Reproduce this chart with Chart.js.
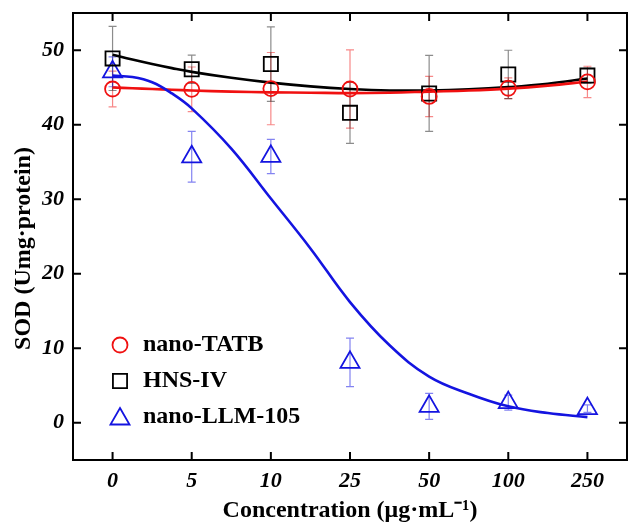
<!DOCTYPE html>
<html><head><meta charset="utf-8">
<script src="https://cdn.jsdelivr.net/npm/chart.js@4/dist/chart.umd.min.js"></script>
<style>html,body{margin:0;padding:0;background:#fff;}</style>
</head><body>
<canvas id="c" width="631" height="522"></canvas>
<script>
// ---- data ----
const categories = ['0', '5', '10', '25', '50', '100', '250'];
const yTicks = [0, 10, 20, 30, 40, 50];

const tatbMean = [44.8, 44.75, 44.85, 44.8, 43.8, 44.9, 45.75];
const tatbErr  = [2.4, 3.0, 4.85, 5.25, 2.7, 1.4, 2.1];
const hnsMean  = [48.9, 47.45, 48.15, 41.6, 44.2, 46.75, 46.6];
const hnsErr   = [4.3, 1.9, 5.0, 4.1, 5.1, 3.25, 1.0];
const llmMean  = [47.1, 35.7, 35.75, 8.1, 2.2, 2.7, 1.9];
const llmErr   = [2.0, 3.4, 2.3, 3.25, 1.75, 1.0, 0.5];

// fitted curves, read at positions along the category axis
const fitX    = [0, 0.25, 0.5, 0.75, 1, 1.5, 2, 2.5, 3, 3.5, 4, 4.5, 5, 5.5, 6];
const fitTATB = [45.0, 44.9, 44.8, 44.7, 44.6, 44.45, 44.35, 44.3, 44.25, 44.3, 44.45, 44.6, 44.85, 45.25, 45.8];
const fitHNS  = [49.4, 48.75, 48.15, 47.6, 47.1, 46.3, 45.65, 45.15, 44.8, 44.6, 44.6, 44.75, 45.05, 45.5, 46.2];
const fitLLM  = [46.6, 46.4, 45.7, 44.2, 42.2, 36.8, 30.1, 23.4, 16.2, 10.4, 6.2, 3.9, 2.2, 1.3, 0.75];

const legendLabels = ['nano-TATB', 'HNS-IV', 'nano-LLM-105'];
const yTitle = 'SOD (Umg·protein)';
const xTitle = 'Concentration (μg·mL⁻¹)';

const RED = '#f01010', BLACK = '#000000', BLUE = '#1414e0';
const SERIF = "'Liberation Serif','Times New Roman',serif";

const pts = arr => arr.map((v, i) => ({x: i, y: v}));
const curve = arr => arr.map((v, i) => ({x: fitX[i], y: v}));

const series = [
  {mean: tatbMean, err: tatbErr, color: RED, errColor: 'rgba(240,40,40,0.55)', style: 'circle', r: 7.5},
  {mean: hnsMean, err: hnsErr, color: BLACK, errColor: 'rgba(0,0,0,0.45)', style: 'rect', r: 10},
  {mean: llmMean, err: llmErr, color: BLUE, errColor: 'rgba(30,30,230,0.55)', style: 'triangle', r: 11}
];

function drawMarker(ctx, style, x, y, r, color) {
  ctx.save();
  ctx.strokeStyle = color; ctx.lineWidth = 1.8;
  ctx.beginPath();
  if (style === 'circle') {
    ctx.arc(x, y, r, 0, Math.PI * 2);
  } else if (style === 'rect') {
    const s = r * Math.SQRT1_2;
    ctx.rect(x - s, y - s, 2 * s, 2 * s);
  } else {
    const dx = Math.cos(Math.PI / 6) * r;
    ctx.moveTo(x, y - r); ctx.lineTo(x + dx, y + r / 2); ctx.lineTo(x - dx, y + r / 2); ctx.closePath();
  }
  ctx.stroke();
  ctx.restore();
}

const framePlugin = {
  id: 'frame',
  beforeDatasetsDraw(chart) {
    const {ctx, scales: {x, y}} = chart;
    series.forEach(s => {
      ctx.save();
      ctx.strokeStyle = s.errColor; ctx.lineWidth = 1.2;
      s.mean.forEach((m, i) => {
        const px = x.getPixelForValue(i);
        const top = y.getPixelForValue(m + s.err[i]);
        const bot = y.getPixelForValue(m - s.err[i]);
        ctx.beginPath();
        ctx.moveTo(px, top); ctx.lineTo(px, bot);
        ctx.moveTo(px - 4, top); ctx.lineTo(px + 4, top);
        ctx.moveTo(px - 4, bot); ctx.lineTo(px + 4, bot);
        ctx.stroke();
      });
      ctx.restore();
    });
  },
  afterDraw(chart) {
    const {ctx, chartArea: a, scales: {x, y}} = chart;
    ctx.save();
    ctx.strokeStyle = '#000'; ctx.lineWidth = 2;
    ctx.strokeRect(a.left, a.top, a.right - a.left, a.bottom - a.top);
    const L = 8;
    ctx.beginPath();
    x.ticks.forEach(t => {
      const px = x.getPixelForValue(t.value);
      ctx.moveTo(px, a.bottom); ctx.lineTo(px, a.bottom - L);
      ctx.moveTo(px, a.top); ctx.lineTo(px, a.top + L);
    });
    y.ticks.forEach(t => {
      const py = y.getPixelForValue(t.value);
      ctx.moveTo(a.left, py); ctx.lineTo(a.left + L, py);
      ctx.moveTo(a.right, py); ctx.lineTo(a.right - L, py);
    });
    ctx.stroke();
    // y-axis title
    ctx.font = 'bold 24px ' + SERIF;
    ctx.fillStyle = '#000';
    ctx.save();
    ctx.translate(24, (a.top + a.bottom) / 2 + 12);
    ctx.rotate(-Math.PI / 2);
    ctx.textAlign = 'center'; ctx.textBaseline = 'middle';
    ctx.fillText(yTitle, 0, 0);
    ctx.restore();
    // legend
    const lx = a.left + 47, ly0 = 345, step = 36;
    ctx.textBaseline = 'middle'; ctx.textAlign = 'left';
    series.forEach((s, i) => {
      const ly = ly0 + i * step;
      drawMarker(ctx, s.style, lx, ly + (s.style === 'triangle' ? 2 : 0), s.style === 'circle' ? 7.5 : s.r, s.color);
      ctx.fillText(legendLabels[i], lx + 23, ly);
    });
    ctx.restore();
  }
};

const pointDs = series.map((s, i) => ({
  label: legendLabels[i],
  data: pts(s.mean),
  showLine: false,
  pointStyle: s.style,
  pointRadius: s.r,
  pointBorderWidth: 1.8,
  pointBorderColor: s.color,
  pointBackgroundColor: 'rgba(0,0,0,0)',
  borderColor: s.color,
  order: 1
}));

const fitDs = [fitTATB, fitHNS, fitLLM].map((f, i) => ({
  label: legendLabels[i] + ' fit',
  data: curve(f),
  borderColor: series[i].color,
  borderWidth: 2.6,
  pointRadius: 0,
  tension: 0.4,
  fill: false,
  order: [3, 4, 2][i]
}));

new Chart(document.getElementById('c'), {
  type: 'line',
  data: {datasets: [...pointDs, ...fitDs]},
  options: {
    responsive: false,
    animation: false,
    devicePixelRatio: 1,
    layout: {autoPadding: false, padding: {top: 13, right: 4, left: 0, bottom: 0}},
    plugins: {legend: {display: false}, tooltip: {enabled: false}},
    scales: {
      x: {
        type: 'linear', min: -0.5, max: 6.5,
        afterBuildTicks: sc => { sc.ticks = categories.map((c, i) => ({value: i})); },
        afterFit: sc => { sc.height = 62; sc.paddingLeft = 0; sc.paddingRight = 0; },
        grid: {display: false, drawTicks: false},
        border: {display: false},
        ticks: {
          autoSkip: false, maxRotation: 0, padding: 8, color: '#000',
          font: {family: SERIF, size: 22, weight: 'bold', style: 'italic'},
          callback: v => categories[v]
        },
        title: {
          display: true, text: xTitle, color: '#000',
          font: {family: SERIF, size: 24, weight: 'bold'}, padding: {top: 0, bottom: -3}
        }
      },
      y: {
        type: 'linear', min: -5, max: 55,
        afterBuildTicks: sc => { sc.ticks = yTicks.map(v => ({value: v})); },
        afterFit: sc => { sc.width = 73; sc.paddingTop = 0; sc.paddingBottom = 0; },
        grid: {display: false, drawTicks: false},
        border: {display: false},
        ticks: {
          padding: 9, color: '#000',
          font: {family: SERIF, size: 22, weight: 'bold', style: 'italic'}
        },
        title: {display: false}
      }
    }
  },
  plugins: [framePlugin]
});
</script>
</body></html>
